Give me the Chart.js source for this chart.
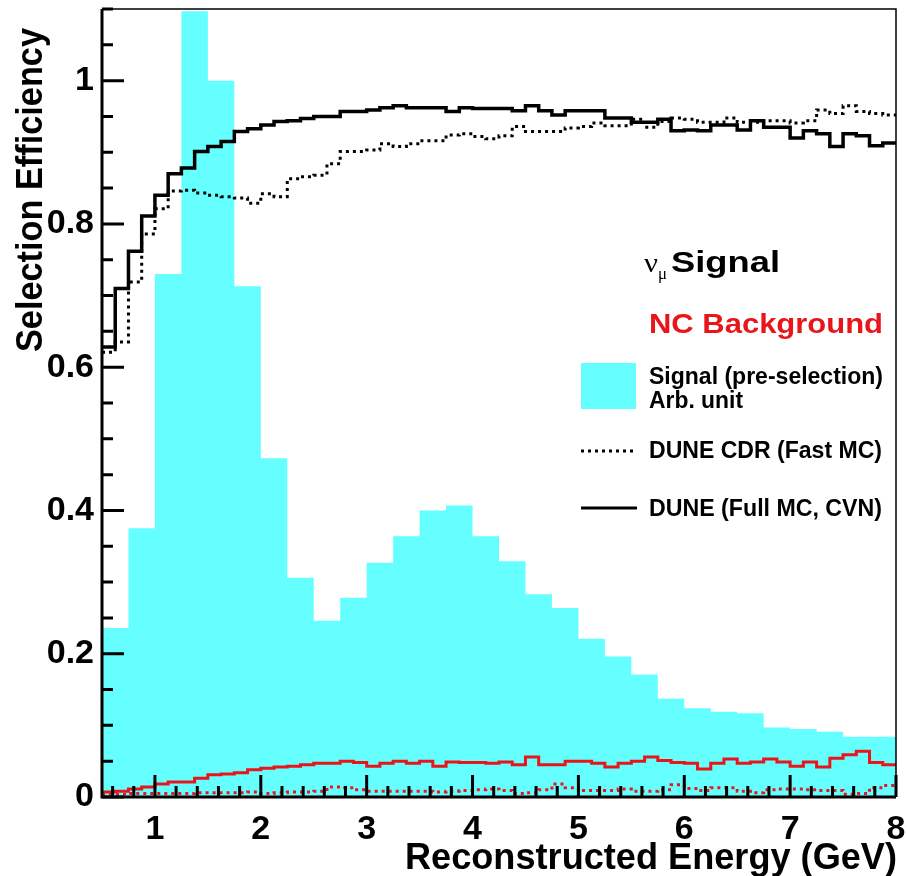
<!DOCTYPE html>
<html>
<head>
<meta charset="utf-8">
<script src="https://cdn.jsdelivr.net/npm/chart.js@4.4.0/dist/chart.umd.min.js"></script>
<style>
  html, body { margin: 0; padding: 0; background: #fff; }
  canvas { display: block; }
</style>
</head>
<body>
<canvas id="chart" width="907" height="876"></canvas>
<script>
const X_MIN = 0.5;
const X_MAX = 8;
const SIGNAL_BIN = 0.25;  // pre-selection histogram
const EFF_BIN = 0.125;    // efficiency histograms

// Signal (pre-selection), arb. unit, 0.25 GeV bins from 0.5
const signalPreSel = [
  0.236, 0.375, 0.730, 1.097, 1.000, 0.713, 0.473, 0.306, 0.246, 0.278,
  0.327, 0.364, 0.400, 0.407, 0.364, 0.329, 0.283, 0.264, 0.221, 0.196,
  0.171, 0.137, 0.124, 0.119, 0.117, 0.097, 0.095, 0.091, 0.084, 0.084
];

// numu signal efficiency, DUNE full MC (CVN), 0.125 GeV bins
const fullMcSignal = [
  0.628, 0.710, 0.762, 0.811, 0.840, 0.870, 0.878, 0.901, 0.908, 0.915,
  0.929, 0.933, 0.938, 0.943, 0.944, 0.947, 0.950, 0.950, 0.957, 0.957,
  0.959, 0.962, 0.965, 0.962, 0.962, 0.962, 0.957, 0.962, 0.961, 0.961,
  0.961, 0.958, 0.965, 0.958, 0.952, 0.958, 0.958, 0.958, 0.948, 0.948,
  0.942, 0.942, 0.946, 0.930, 0.931, 0.930, 0.938, 0.938, 0.931, 0.944,
  0.935, 0.935, 0.920, 0.930, 0.926, 0.908, 0.926, 0.923, 0.909, 0.913
];

// numu signal efficiency, DUNE CDR fast MC
const fastMcSignal = [
  0.621, 0.635, 0.719, 0.786, 0.821, 0.846, 0.847, 0.843, 0.840, 0.838,
  0.836, 0.829, 0.842, 0.838, 0.863, 0.866, 0.868, 0.884, 0.901, 0.901,
  0.903, 0.912, 0.908, 0.912, 0.916, 0.916, 0.924, 0.926, 0.922, 0.919,
  0.923, 0.936, 0.929, 0.929, 0.929, 0.934, 0.936, 0.941, 0.937, 0.937,
  0.946, 0.935, 0.943, 0.948, 0.946, 0.942, 0.942, 0.948, 0.942, 0.942,
  0.944, 0.944, 0.941, 0.944, 0.959, 0.954, 0.965, 0.957, 0.954, 0.952
];

// NC background efficiency, full MC
const fullMcNC = [
  0.007, 0.008, 0.011, 0.014, 0.018, 0.021, 0.021, 0.026, 0.031, 0.032,
  0.034, 0.038, 0.040, 0.042, 0.043, 0.045, 0.047, 0.047, 0.050, 0.048,
  0.043, 0.047, 0.050, 0.047, 0.050, 0.043, 0.049, 0.048, 0.048, 0.047,
  0.049, 0.045, 0.056, 0.045, 0.045, 0.050, 0.050, 0.047, 0.042, 0.047,
  0.050, 0.056, 0.051, 0.048, 0.047, 0.039, 0.047, 0.053, 0.047, 0.049,
  0.053, 0.049, 0.043, 0.049, 0.042, 0.054, 0.059, 0.064, 0.048, 0.045
];

// NC background efficiency, CDR fast MC
const fastMcNC = [
  0.004, 0.004, 0.005, 0.005, 0.005, 0.005, 0.005, 0.006, 0.006, 0.006,
  0.006, 0.007, 0.005, 0.006, 0.007, 0.007, 0.008, 0.014, 0.013, 0.010,
  0.008, 0.008, 0.008, 0.008, 0.008, 0.007, 0.008, 0.009, 0.010, 0.011,
  0.009, 0.005, 0.006, 0.010, 0.018, 0.013, 0.009, 0.009, 0.009, 0.011,
  0.008, 0.008, 0.010, 0.017, 0.012, 0.009, 0.013, 0.013, 0.008, 0.006,
  0.010, 0.011, 0.011, 0.010, 0.009, 0.009, 0.004, 0.005, 0.013, 0.016
];

const xTickValues = [1, 2, 3, 4, 5, 6, 7, 8];
const yTickValues = [0, 0.2, 0.4, 0.6, 0.8, 1];

const CYAN = 'rgb(102, 255, 255)';
const RED = '#e8161b';
const SANS = '"Liberation Sans", Arial, Helvetica, sans-serif';
const SERIF = '"Liberation Serif", "Times New Roman", serif';

// points at the left edge of each bin plus the closing edge, for stepped lines
function toSteps(values, binWidth) {
  const pts = values.map((v, i) => ({ x: X_MIN + i * binWidth, y: v }));
  pts.push({ x: X_MIN + values.length * binWidth, y: values[values.length - 1] });
  return pts;
}

function stepLine(data, color, width, dash, order) {
  return {
    data,
    borderColor: color,
    borderWidth: width,
    borderDash: dash,
    borderCapStyle: 'butt',
    stepped: true,
    pointRadius: 0,
    fill: false,
    order
  };
}

// draw a string squeezed/stretched to a given width
function fitText(ctx, str, x, y, font, color, width, angle = 0) {
  ctx.save();
  ctx.font = font;
  ctx.fillStyle = color;
  ctx.textBaseline = 'alphabetic';
  ctx.textAlign = 'left';
  const w = ctx.measureText(str).width;
  ctx.translate(x, y);
  if (angle) ctx.rotate(angle);
  ctx.scale(width ? width / w : 1, 1);
  ctx.fillText(str, 0, 0);
  ctx.restore();
}

const rootFrame = {
  id: 'rootFrame',
  afterDatasetsDraw(chart) {
    const { ctx, chartArea: a, scales: { x, y } } = chart;
    ctx.save();
    ctx.strokeStyle = '#000';

    ctx.lineWidth = 1.5;
    ctx.beginPath();
    ctx.moveTo(a.left, a.top);
    ctx.lineTo(a.right, a.top);
    ctx.lineTo(a.right, a.bottom);
    ctx.stroke();

    ctx.lineWidth = 3;
    ctx.beginPath();
    ctx.moveTo(a.left, a.top);
    ctx.lineTo(a.left, a.bottom);
    ctx.lineTo(a.right, a.bottom);
    ctx.stroke();

    // ticks inside the frame, ROOT style
    ctx.beginPath();
    for (let i = 0; i <= 22; i++) {
      const py = y.getPixelForValue(i * 0.05);
      const len = i % 4 === 0 ? 22 : 11;
      ctx.moveTo(a.left, py);
      ctx.lineTo(a.left + len, py);
    }
    for (let i = 3; i <= 40; i++) {
      const px = x.getPixelForValue(i * 0.2);
      const len = i % 5 === 0 ? 22 : 11;
      ctx.moveTo(px, a.bottom);
      ctx.lineTo(px, a.bottom - len);
    }
    ctx.stroke();
    ctx.restore();
  },
  afterDraw(chart) {
    const { ctx } = chart;

    fitText(ctx, 'Selection Efficiency', 42, 352, `bold 37px ${SANS}`, '#000', 324, -Math.PI / 2);
    fitText(ctx, 'Reconstructed Energy (GeV)', 405, 869, `bold 37px ${SANS}`, '#000', 492);

    // legend
    fitText(ctx, '\u03BD', 644, 272, `28px ${SERIF}`, '#000', 14);
    fitText(ctx, '\u03BC', 658, 279, `17px ${SERIF}`, '#000', 9);
    fitText(ctx, 'Signal', 671, 272, `bold 29px ${SANS}`, '#000', 109);
    fitText(ctx, 'NC Background', 649, 333, `bold 28px ${SANS}`, RED, 234);

    ctx.save();
    ctx.fillStyle = CYAN;
    ctx.fillRect(581, 363, 55, 46);
    ctx.restore();
    fitText(ctx, 'Signal (pre-selection)', 649, 384, `bold 23px ${SANS}`, '#000', 234);
    fitText(ctx, 'Arb. unit', 649, 408, `bold 23px ${SANS}`, '#000', 94);

    ctx.save();
    ctx.strokeStyle = '#000';
    ctx.lineWidth = 3;
    ctx.setLineDash([3, 4]);
    ctx.beginPath();
    ctx.moveTo(581, 451);
    ctx.lineTo(637, 451);
    ctx.stroke();
    ctx.setLineDash([]);
    ctx.beginPath();
    ctx.moveTo(581, 508);
    ctx.lineTo(637, 508);
    ctx.stroke();
    ctx.restore();
    fitText(ctx, 'DUNE CDR (Fast MC)', 649, 458, `bold 23px ${SANS}`, '#000', 233);
    fitText(ctx, 'DUNE (Full MC, CVN)', 649, 516, `bold 23px ${SANS}`, '#000', 233);
  }
};

const tickFont = { family: SANS, size: 34, weight: 'bold' };

new Chart(document.getElementById('chart'), {
  type: 'line',
  data: {
    datasets: [
      stepLine(toSteps(fullMcSignal, EFF_BIN), '#000', 3.5, [], 1),
      stepLine(toSteps(fastMcSignal, EFF_BIN), '#000', 3, [3, 4], 2),
      stepLine(toSteps(fullMcNC, EFF_BIN), RED, 3, [], 3),
      stepLine(toSteps(fastMcNC, EFF_BIN), RED, 3, [3, 4], 4),
      {
        data: toSteps(signalPreSel, SIGNAL_BIN),
        borderWidth: 0,
        borderColor: CYAN,
        backgroundColor: CYAN,
        stepped: true,
        pointRadius: 0,
        fill: 'origin',
        order: 10
      }
    ]
  },
  options: {
    responsive: false,
    animation: false,
    devicePixelRatio: 1,
    layout: { padding: { top: 9, right: 11, left: 0, bottom: 0 } },
    plugins: {
      legend: { display: false },
      tooltip: { enabled: false }
    },
    scales: {
      x: {
        type: 'linear',
        min: X_MIN,
        max: X_MAX,
        grid: { display: false, drawTicks: false },
        border: { display: false },
        afterBuildTicks: (s) => { s.ticks = xTickValues.map(v => ({ value: v })); },
        afterFit: (s) => { s.height = 79; s.paddingLeft = 0; s.paddingRight = 0; },
        ticks: {
          font: tickFont,
          color: '#000',
          padding: 12,
          maxRotation: 0,
          autoSkip: false,
          callback: (v) => String(v)
        }
      },
      y: {
        type: 'linear',
        min: 0,
        max: 1.1,
        grid: { display: false, drawTicks: false },
        border: { display: false },
        afterBuildTicks: (s) => { s.ticks = yTickValues.map(v => ({ value: v })); },
        afterFit: (s) => { s.width = 102; s.paddingTop = 0; s.paddingBottom = 0; },
        ticks: {
          font: tickFont,
          color: '#000',
          padding: 8,
          autoSkip: false,
          callback: (v) => String(+v.toFixed(2))
        }
      }
    }
  },
  plugins: [rootFrame]
});
</script>
</body>
</html>
